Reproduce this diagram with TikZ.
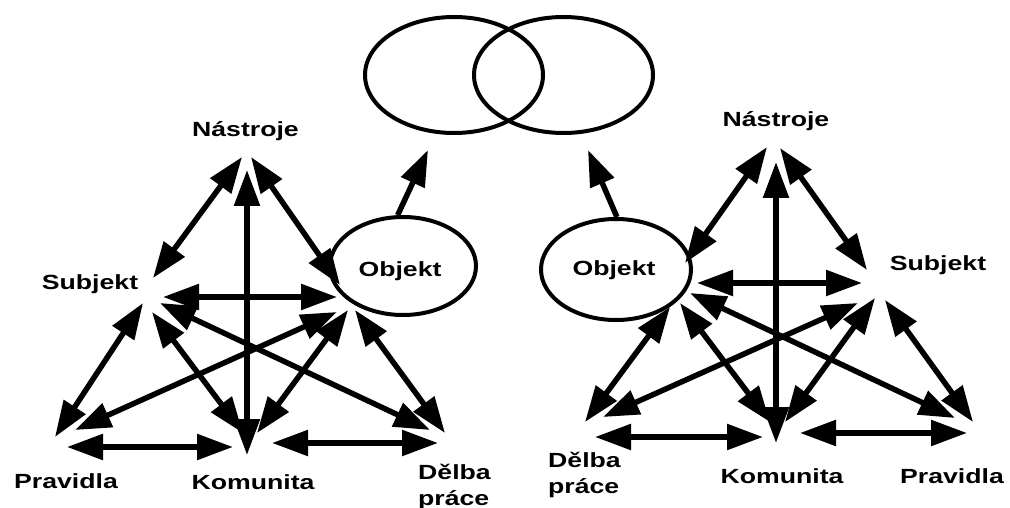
\documentclass[tikz,border=0pt]{standalone}
\usepackage{fontspec}
\setmainfont[FakeStretch=1.3]{Liberation Sans}
\usetikzlibrary{arrows.meta,shapes.geometric}

\begin{document}
\begin{tikzpicture}[x=1pt,y=-1pt,
  lbl/.style={font=\fontsize{20.5}{26}\selectfont\bfseries, inner sep=0pt, anchor=base},
  twoline/.style={lbl, align=left, anchor=base west},
  head/.tip={Triangle[length=36pt,width=25pt]},
  rel/.style={line width=5.5pt, head-head},
  lead/.style={line width=5.5pt, -head},
  ring/.style={draw, line width=4pt, ellipse, inner sep=0pt},
]
\useasboundingbox (0,0) rectangle (1010,508);

% two overlapping sets at the top
\node[ring, minimum width=178pt, minimum height=116pt] (setA) at (454,75) {};
\node[ring, minimum width=179pt, minimum height=116pt] (setB) at (563.5,75) {};

% ---------- left activity system ----------
\node[ring, minimum width=146pt, minimum height=98pt] (lobj) at (403,266) {};
\node[lbl] (lobjtxt) at (400,276) {Objekt};
\node[lbl] (lnas) at (245.5,137) {Nástroje};
\node[lbl] (lsub) at (90,289) {Subjekt};
\node[lbl] (lpra) at (66,488) {Pravidla};
\node[lbl] (lkom) at (253,489) {Komunita};
\node[twoline] (ldel) at (418,505) {Dělba\\práce};

\coordinate (lNS1) at (242,157); \coordinate (lNS2) at (153,278);
\coordinate (lNK1) at (247,170); \coordinate (lNK2) at (247,455);
\coordinate (lNO1) at (251,157); \coordinate (lNO2) at (340,285);
\coordinate (lSO1) at (163,297); \coordinate (lSO2) at (337,297);
\coordinate (lSP1) at (143,303); \coordinate (lSP2) at (55,437);
\coordinate (lSK1) at (152,312); \coordinate (lSK2) at (243,433);
\coordinate (lSD1) at (160,303); \coordinate (lSD2) at (430,430);
\coordinate (lOP1) at (337,312); \coordinate (lOP2) at (75,430);
\coordinate (lOK1) at (348,310); \coordinate (lOK2) at (257,433);
\coordinate (lOD1) at (355,310); \coordinate (lOD2) at (445,433);
\coordinate (lPK1) at (67,447);  \coordinate (lPK2) at (233,447);
\coordinate (lKD1) at (272,443); \coordinate (lKD2) at (438,443);

\foreach \e in {NS,NK,NO,SO,SP,SK,SD,OP,OK,OD,PK,KD}
  \draw[rel] (l\e1) -- (l\e2);

\coordinate (lup) at (428,150);
\draw[lead] (lobj.96) -- (lup);

% ---------- right activity system ----------
\node[ring, minimum width=150pt, minimum height=101pt] (robj) at (616,269.5) {};
\node[lbl] (robjtxt) at (614,275) {Objekt};
\node[lbl] (rnas) at (776,127) {Nástroje};
\node[lbl] (rsub) at (938,270) {Subjekt};
\node[twoline] (rdel) at (548,493) {Dělba\\práce};
\node[lbl] (rkom) at (782,483) {Komunita};
\node[lbl] (rpra) at (952,483) {Pravidla};

\coordinate (rNO1) at (767,147); \coordinate (rNO2) at (685,263);
\coordinate (rNK1) at (776,162); \coordinate (rNK2) at (776,443);
\coordinate (rNS1) at (780,148); \coordinate (rNS2) at (867,270);
\coordinate (rOS1) at (697,283); \coordinate (rOS2) at (862,283);
\coordinate (rSD1) at (858,303); \coordinate (rSD2) at (603,417);
\coordinate (rSK1) at (875,298); \coordinate (rSK2) at (785,422);
\coordinate (rSP1) at (885,300); \coordinate (rSP2) at (973,422);
\coordinate (rOD1) at (670,307); \coordinate (rOD2) at (585,422);
\coordinate (rOK1) at (680,303); \coordinate (rOK2) at (770,422);
\coordinate (rOP1) at (690,293); \coordinate (rOP2) at (955,418);
\coordinate (rDK1) at (595,437); \coordinate (rDK2) at (763,437);
\coordinate (rKP1) at (800,433); \coordinate (rKP2) at (967,433);

\foreach \e in {NO,NK,NS,OS,SD,SK,SP,OD,OK,OP,DK,KP}
  \draw[rel] (r\e1) -- (r\e2);

\coordinate (rup) at (588,150);
\draw[lead] (robj.89) -- (rup);
\end{tikzpicture}
\end{document}
